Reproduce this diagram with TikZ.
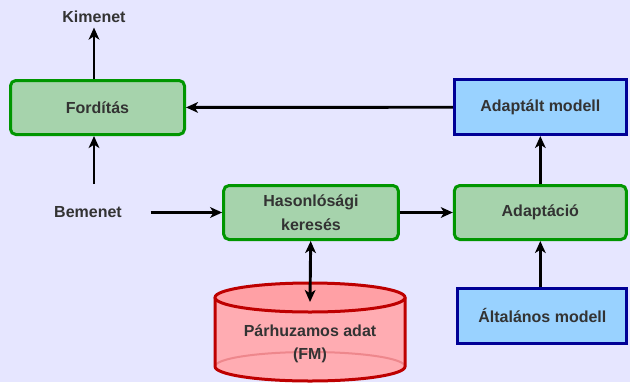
\documentclass[tikz,border=0pt]{standalone}
\usepackage{fontspec}
\setmainfont{Liberation Sans}
\usetikzlibrary{arrows.meta, positioning}
\definecolor{hatter}{RGB}{230,230,255}
\definecolor{zoldfill}{RGB}{166,211,172}
\definecolor{zoldkeret}{RGB}{0,150,0}
\definecolor{kekfill}{RGB}{153,210,255}
\definecolor{kekkeret}{RGB}{0,0,150}
\definecolor{pirosfill}{RGB}{255,172,178}
\definecolor{pirosteto}{RGB}{255,160,165}
\definecolor{piroskeret}{RGB}{190,0,0}
\definecolor{halvany}{RGB}{238,135,140}
\definecolor{szoveg}{RGB}{51,51,51}

\begin{document}
\begin{tikzpicture}[x=0.75pt, y=-0.75pt,
    every node/.style={font=\fontsize{12}{18}\selectfont\bfseries, text=szoveg, align=center},
    zoldbox/.style={draw=zoldkeret, fill=zoldfill, line width=2.25pt, rounded corners=4pt,
      minimum width=131pt, minimum height=40.5pt},
    kekbox/.style={draw=kekkeret, fill=kekfill, line width=2.25pt,
      minimum width=129pt, minimum height=41pt},
    hegy/.tip={Stealth[length=9pt, width=8pt, inset=2.5pt]},
    nyil/.style={-hegy, line width=2.2pt}]
  \fill[hatter] (0,0) rectangle (630,382);
  \useasboundingbox (0,0) rectangle (630,382);

  % adatbazis henger
  \fill[pirosfill] (215,297.5) -- (215,366.5)
    arc[start angle=180, end angle=0, x radius=95, y radius=14.5] -- (405,297.5) -- cycle;
  \draw[halvany, line width=1.5pt] (215,366.5)
    arc[start angle=180, end angle=360, x radius=95, y radius=14.5];
  \draw[piroskeret, line width=2.25pt] (215,297.5) -- (215,366.5)
    arc[start angle=180, end angle=0, x radius=95, y radius=14.5] -- (405,297.5);
  \filldraw[fill=pirosteto, draw=piroskeret, line width=2.25pt] (310,297.5)
    ellipse[x radius=95, y radius=14.5];
  \node (adat) at (310,343.5) {Párhuzamos adat\\[-1pt](FM)};
  \coordinate (adatteto) at (310,302);

  \node[zoldbox, minimum width=130.5pt] (forditas) at (97.5,107.5) {Fordítás};
  \node[zoldbox] (hasonlo) at (311,212.5) {Hasonlósági\\keresés};
  \node[zoldbox, minimum width=129pt, right=39.75pt of hasonlo] (adaptacio) {Adaptáció};
  \node[kekbox, above=36pt of adaptacio] (adaptalt) {Adaptált modell};
  \node[kekbox, minimum width=126.75pt, below=34.5pt of adaptacio, xshift=1.5pt] (altalanos) {Általános modell};

  \node (kimenet) at (94,17) {Kimenet};
  \node (bemenet) at (88,212.5) {Bemenet};

  \draw[nyil] (forditas.north -| kimenet) -- (kimenet.south);
  \draw[nyil, shorten <=13.5pt] (bemenet.north -| kimenet) -- (forditas.south -| kimenet);
  \draw[nyil, shorten <=18pt] (bemenet) -- (hasonlo);
  \draw[nyil] (hasonlo) -- (adaptacio);
  \draw[nyil] (adaptacio) -- (adaptalt);
  \draw[nyil] (altalanos.north -| adaptacio) -- (adaptacio.south);
  \draw[nyil] (adaptalt) -- (forditas);
  \draw[nyil, hegy-hegy] (hasonlo) -- (adatteto);
\end{tikzpicture}
\end{document}
